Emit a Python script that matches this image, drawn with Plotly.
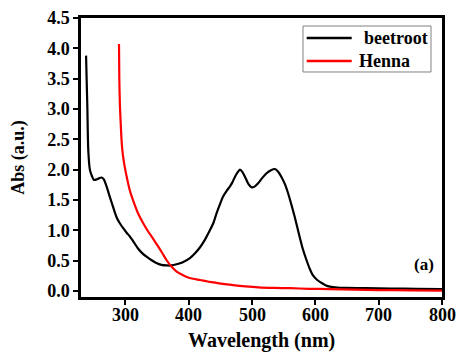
import plotly.graph_objects as go

# UV-Vis absorption spectra
beetroot_wl = [238, 239, 240, 241.5, 244, 247, 250.5, 255, 259, 262.6, 266, 270.5, 274, 278,
               282, 286, 291, 297, 302, 307, 313, 320, 327, 334, 341, 349, 357, 365, 373,
               381, 390, 402, 410, 418, 426, 433.5, 439, 444, 449, 454, 460, 465, 469, 473,
               477, 481, 485, 489, 494, 499, 504, 510, 516, 523, 530, 536, 541, 546.5, 552,
               557, 562, 567.5, 571, 575, 580, 586, 591, 596, 603, 610, 616, 623, 635, 650,
               680, 720, 760, 800]
beetroot_abs = [3.88, 3.45, 3.04, 2.32, 2.00, 1.90, 1.83, 1.84, 1.86, 1.87, 1.84, 1.72, 1.60, 1.47,
                1.34, 1.22, 1.12, 1.03, 0.96, 0.90, 0.81, 0.70, 0.62, 0.56, 0.51, 0.46, 0.43, 0.42, 0.42,
                0.44, 0.47, 0.54, 0.62, 0.72, 0.85, 1.00, 1.12, 1.28, 1.42, 1.55, 1.65, 1.72, 1.79, 1.88,
                1.95, 2.00, 1.96, 1.88, 1.77, 1.71, 1.72, 1.78, 1.86, 1.94, 1.99, 2.01, 1.97, 1.88, 1.76,
                1.61, 1.43, 1.22, 1.07, 0.90, 0.70, 0.51, 0.37, 0.26, 0.18, 0.13, 0.095, 0.07, 0.055, 0.05,
                0.045, 0.04, 0.035, 0.03]

henna_wl = [290, 290.5, 291.5, 293, 294, 296, 299, 303, 307, 312, 320, 328, 336, 344, 352,
            358, 365, 372, 381, 389, 397, 407, 418, 430, 440, 454, 470, 490, 510, 535,
            560, 590, 623, 660, 700, 750, 800]
henna_abs = [4.07, 3.50, 3.04, 2.70, 2.49, 2.25, 2.05, 1.84, 1.66, 1.50, 1.28, 1.12, 0.98, 0.86, 0.73,
             0.63, 0.51, 0.41, 0.32, 0.27, 0.23, 0.20, 0.18, 0.155, 0.14, 0.115, 0.095, 0.075, 0.06, 0.05,
             0.045, 0.035, 0.03, 0.02, 0.015, 0.01, 0.005]

x_ticks = [300, 400, 500, 600, 700, 800]
y_ticks = [0.0, 0.5, 1.0, 1.5, 2.0, 2.5, 3.0, 3.5, 4.0, 4.5]

series_names = ["beetroot", "Henna"]
series_colors = ["black", "#ff0000"]

serif = "Liberation Serif"
tick_font = dict(family=serif, size=18, color="black", weight="bold")

fig = go.Figure()
fig.add_trace(go.Scatter(x=beetroot_wl, y=beetroot_abs, mode="lines", name=series_names[0],
                         showlegend=False,
                         line=dict(color=series_colors[0], width=2.2, shape="spline", smoothing=0.7)))
fig.add_trace(go.Scatter(x=henna_wl, y=henna_abs, mode="lines", name=series_names[1],
                         showlegend=False,
                         line=dict(color=series_colors[1], width=2.2, shape="spline", smoothing=0.7)))

axis_common = dict(showline=True, linecolor="black", linewidth=2.5, mirror=True,
                   ticks="outside", ticklen=5, tickwidth=2, tickcolor="black",
                   showgrid=False, zeroline=False, automargin=False, tickfont=tick_font)

# x tick labels and title are set as annotations so they sit where wanted below the axis
fig.update_xaxes(range=[230, 800], tickvals=x_ticks, showticklabels=False, **axis_common)
fig.update_yaxes(range=[-0.1, 4.5], tickvals=y_ticks, ticktext=[f"{v:.1f}" for v in y_ticks],
                 title=dict(text="Abs (a.u.)", standoff=18,
                            font=dict(family=serif, size=18, color="black", weight="bold")),
                 **axis_common)

for v in x_ticks:
    fig.add_annotation(x=v, y=0, xref="x", yref="paper", text=str(v), showarrow=False,
                       xanchor="center", yanchor="top", yshift=-6, font=tick_font)

fig.add_annotation(x=0.5, y=0, xref="paper", yref="paper", text="Wavelength (nm)",
                   showarrow=False, xanchor="center", yanchor="top", yshift=-30,
                   font=dict(family=serif, size=20, color="black", weight="bold"))

# Boxed legend in the upper-right corner (paper coordinates)
box_x0, box_x1, box_y0, box_y1 = 0.615, 0.9695, 0.8065, 0.9713
key_x0, key_x1 = 0.6252, 0.7499
row_y = [0.9283, 0.8459]
label_x = [0.7776, 0.7637]

fig.add_shape(type="rect", xref="paper", yref="paper",
              x0=box_x0, x1=box_x1, y0=box_y0, y1=box_y1,
              line=dict(color="#808080", width=1), fillcolor="white", layer="above")
for name, color, yy, lx in zip(series_names, series_colors, row_y, label_x):
    fig.add_shape(type="line", xref="paper", yref="paper",
                  x0=key_x0, x1=key_x1, y0=yy, y1=yy,
                  line=dict(color=color, width=2.5), layer="above")
    fig.add_annotation(x=lx, y=yy, xref="paper", yref="paper", text=name, showarrow=False,
                       xanchor="left", yanchor="middle",
                       font=dict(family=serif, size=18, color="black", weight="bold"))

fig.add_annotation(x=0.95, y=0.115, xref="paper", yref="paper", text="(a)", showarrow=False,
                   xanchor="center", yanchor="middle",
                   font=dict(family=serif, size=17, color="black", weight="bold"))

fig.update_layout(
    width=457, height=354,
    margin=dict(l=81, r=15, t=18, b=57),
    paper_bgcolor="white", plot_bgcolor="white",
    showlegend=False,
)

fig.write_html("out.html")
